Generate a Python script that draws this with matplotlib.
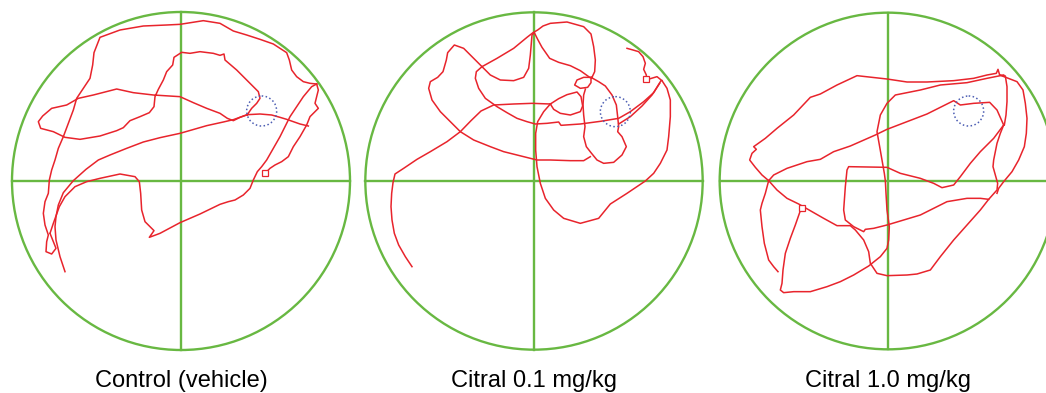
import matplotlib
matplotlib.use('Agg')
import matplotlib.pyplot as plt
from matplotlib.patches import Circle

titles = ['Control (vehicle)', 'Citral 0.1 mg/kg', 'Citral 1.0 mg/kg']

# pool geometry in tracker units (y grows downwards, as from the camera)
pool_x = [543, 551, 593]
pool_y = [543, 543, 543]
pool_r = [507, 506, 505]

# hidden platform
platform_x = [785, 795, 835]
platform_y = [333, 335, 333]
platform_r = 45

# small square marker on each track
mark_x = [795, 888, 335]
mark_y = [520, 238, 625]

# ---- control (vehicle) track pieces
vehicle_a = [(195,815),(180,770),(168,720),(165,680),(168,650),(175,615),(190,578),(220,542),(258,508),
             (295,480),(330,465),(380,445),(430,426),(480,413),(540,400),(575,390),(620,377),(670,366),
             (700,359),(742,344)]
vehicle_b = [(742,344),(755,325),(770,310),(780,295),(775,275),(750,250),(710,210),(675,180),(672,162),
             (660,166),(640,160),(600,155),(570,160),(545,157),(522,172),(518,195),(500,215),(490,240),
             (475,268),(465,290),(462,320),(448,338),(420,350),(390,362),(370,383),(350,392),(300,408),
             (240,418),(195,412),(160,395),(122,385),(115,365),(128,348),(155,325),(200,315),(235,295),
             (280,285),(350,267),(400,278),(460,285),(540,290),(580,308),(620,325),(660,340),(682,355),
             (700,362),(720,352),(742,344)]
vehicle_c = [(742,344),(780,342),(815,345),(840,352),(860,358),(900,372),(925,378)]
vehicle_d = [(150,700),(160,725),(168,745),(155,762),(138,755),(140,725),(145,705),(135,675),(130,640),
             (135,605),(145,580),(148,540),(155,510),(165,480),(175,445),(190,410),(205,370),(220,330),
             (230,295),(250,265),(270,235),(278,195),(282,158),(300,112),(360,90),(430,78),(500,75),
             (540,73),(610,62),(660,70),(700,93),(740,105),(780,118),(820,132),(860,158),(868,180),
             (875,210),(890,230),(910,245),(930,250),(950,252)]
vehicle_e = [(150,700),(160,670),(178,620),(195,590),(225,560),(260,545),(300,535),(360,522),(405,530),
             (418,545),(422,580),(425,630),(435,665),(462,692),(448,712),(480,700),(540,668),(600,642),
             (660,613),(685,605),(705,600),(730,585),(750,565),(760,540),(772,515),(785,500),(800,480),
             (820,445),(840,410),(855,380),(870,350),(890,320),(910,290),(935,260),(950,252)]
vehicle_f = [(950,252),(955,270),(950,290),(945,310),(955,325),(945,335),(930,350),(920,375),(900,410),
             (880,440),(865,470),(845,485),(825,495),(810,505),(800,515)]

# ---- citral 0.1 mg/kg track pieces
c01_a = [(185,800),(165,770),(145,735),(132,700),(125,660),(122,620),(124,580),(128,548),(134,522),
         (160,505),(200,478),(240,455),(290,425),(330,395),(362,362),(392,333),(430,315),(490,312),
         (545,310),(600,312)]
c01_b = [(600,312),(580,335),(562,365),(556,400),(556,450),(560,500),(570,550),(585,595),(610,630),
         (640,655),(690,670),(745,655),(780,612),(830,580),(885,543),(910,520),(930,490),(950,450),
         (955,410),(960,350),(960,300),(950,265),(935,242)]
c01_c = [(720,470),(700,482),(660,482),(600,480),(560,480),(540,475),(500,465),(460,455),(420,440),
         (370,420),(330,395),(300,365),(270,335),(245,300),(235,265),(240,245),(262,232),(278,215),
         (288,180),(292,158),(312,135),(340,145),(370,175),(395,200),(420,225),(450,240),(490,242),
         (520,232),(535,205),(540,165),(545,105),(552,98),(562,118),(575,142),(598,175),(625,187),
         (660,197),(690,212),(718,232)]
c01_d = [(395,200),(440,175),(490,145),(530,112),(548,98),(562,90),(578,78),(600,70),(650,66),(700,80),
         (722,102),(730,140),(735,180),(733,215),(725,232),(700,232),(680,240),(673,255),(690,265),
         (712,262),(722,248),(722,232),(745,245),(765,258),(785,285),(798,315),(802,350),(805,380),
         (802,395),(815,410),(828,440),(815,465),(790,487),(760,490),(740,480),(722,458),(708,440),
         (700,410),(704,380),(700,345),(698,315),(700,285),(705,268)]
c01_e = [(600,312),(625,296),(650,284),(680,276),(692,290),(697,318),(690,335),(660,345),(630,340),
         (610,328),(600,312)]
c01_f = [(395,200),(378,215),(375,235),(385,265),(405,295),(440,320),(470,338),(500,355),(530,365),
         (555,372),(590,370),(625,366),(632,376),(690,372),(750,364),(805,355),(840,335),(880,305),
         (910,278),(932,242)]
c01_g = [(805,372),(840,350),(875,318),(905,285),(928,250)]
c01_h = [(830,145),(848,150),(865,155),(878,170),(885,190),(880,208),(888,225),(888,238),(900,236),
         (920,230),(935,242)]

# ---- citral 1.0 mg/kg track pieces
c10_a = [(263,815),(250,800),(235,780),(222,730),(215,680),(210,630),(215,610),(225,580),(235,542)]
c10_b = [(235,542),(215,525),(195,502),(178,480),(185,460),(198,448),(190,440),(225,415),(260,385),
         (310,345),(360,292),(390,282),(440,255),(500,227),(590,237),(650,246),(710,246),(790,242),
         (850,235),(890,225),(918,220),(923,208),(928,225),(945,228),(950,260),(950,305),(947,345),
         (942,375)]
c10_c = [(235,542),(250,525),(290,505),(350,485),(390,478),(430,455),(480,438),(555,405),(590,388),
         (650,365),(710,342),(790,302),(810,315),(850,310),(898,307),(920,330),(940,375)]
c10_d = [(940,375),(910,415),(870,455),(840,490),(810,530),(790,555),(755,563),(730,550),(690,535),
         (630,520),(590,502),(475,500),(470,510),(465,560),(460,630),(465,660),(490,680),(520,695),
         (525,688),(550,685),(590,675),(640,660),(690,645),(730,625),(770,605),(830,595),(870,595),
         (895,598)]
c10_e = [(940,225),(890,235),(830,248),(750,255),(690,270),(615,285),(590,310),(570,345),(560,395),
         (568,440),(575,480),(582,520),(585,542),(587,580),(590,630),(597,680),(595,720),(590,745),
         (570,770),(535,798),(490,825),(450,845),(410,860),(360,875),(310,875),(280,878),(270,870),
         (275,850),(278,810),(285,760),(300,715),(315,675),(330,632)]
c10_f = [(235,542),(260,570),(290,595),(325,612),(365,635),(400,655),(440,677),(480,677),(495,690),
         (520,720),(535,755),(540,790),(560,820),(590,827),(650,825),(680,822),(720,810),(750,770),
         (790,720),(830,675),(870,630),(895,598),(920,570),(922,550),(915,525),(908,500),(910,480),
         (920,430),(930,400),(940,375)]
c10_g = [(928,225),(980,245),(998,270),(1005,310),(1010,355),(1008,400),(1002,440),(985,480),
         (965,515),(940,545),(925,565),(920,580)]

tracks = [
    [vehicle_a, vehicle_b, vehicle_c, vehicle_d, vehicle_e, vehicle_f],
    [c01_a, c01_b, c01_c, c01_d, c01_e, c01_f, c01_g, c01_h],
    [c10_a, c10_b, c10_c, c10_d, c10_e, c10_f, c10_g],
]

GREEN = '#68b842'
RED = '#e8242c'
BLUE = '#4c5db3'

W, H = 1046, 393
fig = plt.figure(figsize=(W / 100, H / 100), dpi=100)

centre_px = [181, 534, 888]   # pool centre on the page
half_px = 175
scale = 3.0                   # tracker units per pixel

for i in range(3):
    cx, cy, r = pool_x[i], pool_y[i], pool_r[i]
    ax = fig.add_axes([(centre_px[i] - half_px) / W, (H - 181 - half_px) / H,
                       2 * half_px / W, 2 * half_px / H])
    half = half_px * scale
    ax.set_xlim(cx - half, cx + half)
    ax.set_ylim(cy + half, cy - half)
    ax.axis('off')

    ax.add_patch(Circle((cx, cy), r, fill=False, ec=GREEN, lw=1.7, zorder=1))
    ax.plot([cx - r, cx + r], [cy, cy], color=GREEN, lw=1.7, zorder=1)
    ax.plot([cx, cx], [cy - r, cy + r], color=GREEN, lw=1.7, zorder=1)

    for piece in tracks[i]:
        xs, ys = zip(*piece)
        ax.plot(xs, ys, color=RED, lw=1.1, zorder=2, solid_joinstyle='round')

    ax.add_patch(Circle((platform_x[i], platform_y[i]), platform_r, fill=False, ec=BLUE,
                        lw=1.1, ls=(0, (1, 1.6)), zorder=3))
    ax.plot(mark_x[i], mark_y[i], marker='s', ms=5, mfc='white', mec=RED, mew=0.9, zorder=4)

    fig.text(centre_px[i] / W, 6 / H, titles[i], ha='center', va='baseline',
             fontsize=17, family=['Liberation Sans', 'DejaVu Sans'])

fig.savefig('out.png', dpi=100)
